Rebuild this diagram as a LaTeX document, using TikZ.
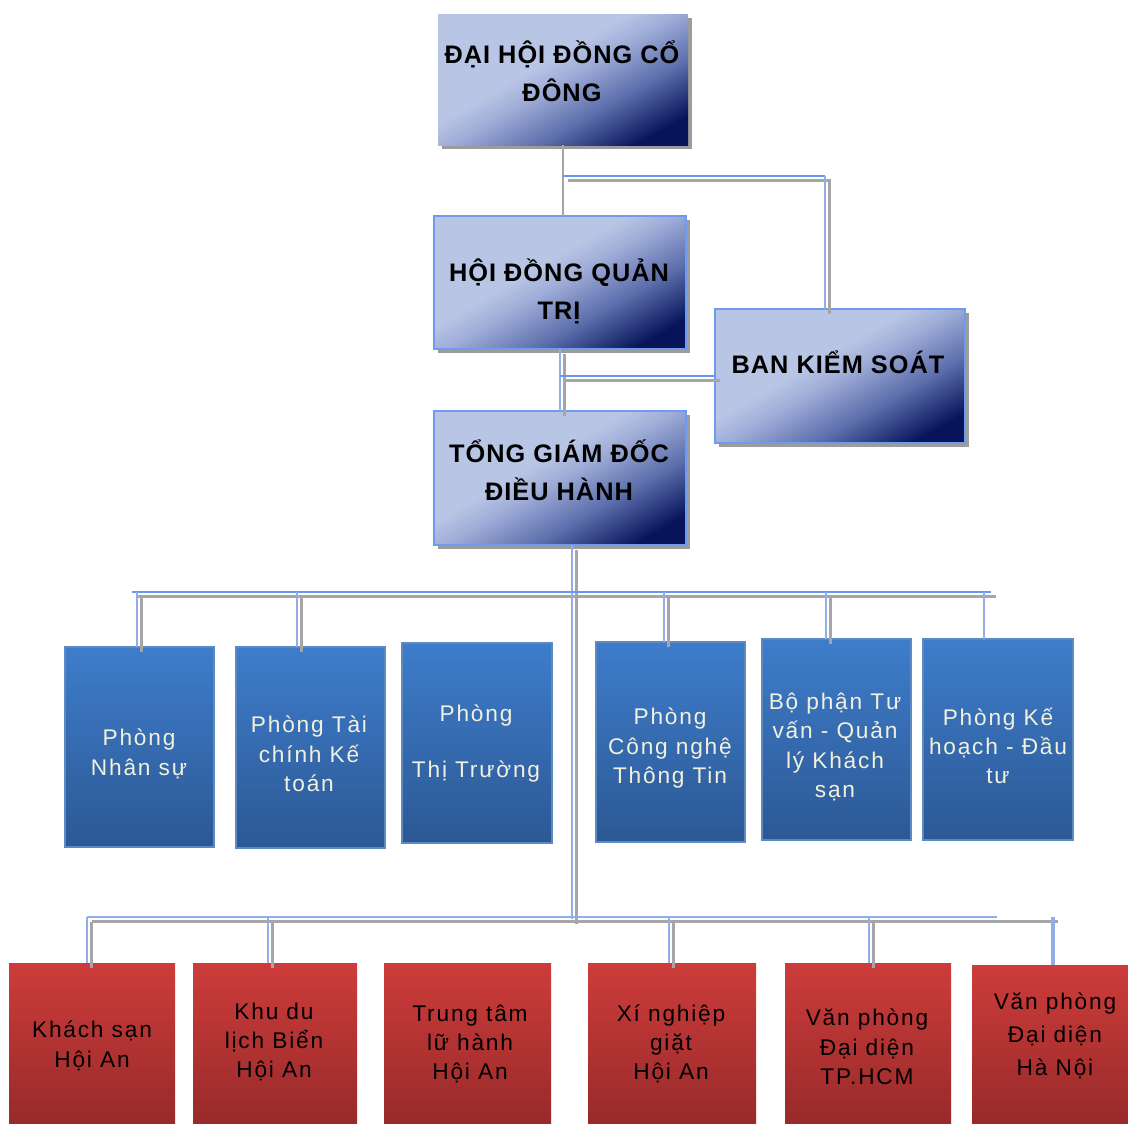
\documentclass[tikz,border=0pt]{standalone}
\usepackage{fontspec}
\setmainfont{Liberation Sans}
\newfontfamily\hdrfont[LetterSpace=4]{Liberation Sans}
\newfontfamily\lblfont[LetterSpace=8]{Liberation Sans}
\usetikzlibrary{shadows}
\definecolor{tl}{HTML}{B9C5E5}
\definecolor{tl2}{HTML}{9FADD8}
\definecolor{tm}{HTML}{5C6EAC}
\definecolor{td}{HTML}{07145A}
\definecolor{edgeblue}{HTML}{6E9BEF}
\definecolor{shadowgray}{HTML}{9C9C9C}
\definecolor{bt}{HTML}{3E7DCB}
\definecolor{bb}{HTML}{2C5894}
\definecolor{bedge}{HTML}{5E8AC4}
\definecolor{rt}{HTML}{CD3C3A}
\definecolor{rb}{HTML}{982A2A}
\definecolor{cream}{HTML}{F2F0DE}
\definecolor{lineblue}{HTML}{6697F2}
\definecolor{lightline}{HTML}{91AEEA}
\definecolor{linegray}{HTML}{A6A6A6}
\pgfdeclareverticalshading{topgrad}{100bp}{color(0bp)=(td); color(23bp)=(td); color(37bp)=(tm); color(50bp)=(tl2); color(57bp)=(tl); color(100bp)=(tl)}
\begin{document}
\begin{tikzpicture}[x=0.75pt,y=-0.75pt,
  sz/.style 2 args={minimum width=#1*0.75pt, minimum height=#2*0.75pt, inner sep=0pt, outer sep=0pt},
  topbox/.style={shade, shading=topgrad, shading angle=30,
    general shadow={fill=shadowgray, shadow xshift=3pt, shadow yshift=-3pt}},
  topedge/.style={draw=edgeblue, line width=1.5pt},
  bluebox/.style={top color=bt, bottom color=bb, draw=bedge, line width=1pt},
  redbox/.style={top color=rt, bottom color=rb},
  toptext/.style={font=\hdrfont\bfseries\fontsize{19}{28.5}\selectfont, align=center, text=black, inner sep=0pt},
  bluetext/.style={font=\lblfont\fontsize{17}{22}\selectfont, align=center, text=cream, inner sep=0pt},
  redtext/.style={font=\lblfont\fontsize{17}{22}\selectfont, align=center, text=black, inner sep=0pt},
  bl/.style={draw=lineblue, line width=1.8pt},
  ll/.style={draw=lightline, line width=1.5pt},
  gl/.style={draw=linegray, line width=1.8pt},
  shd/.style={gl, transform canvas={xshift=3.5pt,yshift=-3.5pt}}
]
\useasboundingbox (0,0) rectangle (1128,1125);

% ---------- top boxes ----------
\node[topbox, sz={250}{131}] (dhcd) at (563,79.5) {};
\node[topbox, topedge, sz={252}{133}] (hdqt) at (560,282.5) {};
\node[topbox, topedge, sz={250}{134}] (bks) at (840,376) {};
\node[topbox, topedge, sz={252}{134}] (tgd) at (560,478) {};

\node[toptext] (dhcdt) at (562,71) {ĐẠI HỘI ĐỒNG CỔ\\ĐÔNG};
\node[toptext] (hdqtt) at (559,291) {HỘI ĐỒNG QUẢN\\TRỊ};
\node[toptext] (bkst) at (838,362) {BAN KIỂM SOÁT};
\node[toptext] (tgdt) at (559,470) {TỔNG GIÁM ĐỐC\\ĐIỀU HÀNH};

% ---------- blue departments ----------
\node[bluebox, sz={149}{200}] (ns) at (139.5,747) {};
\node[bluebox, sz={149}{201}] (tc) at (310.5,747.5) {};
\node[bluebox, sz={150}{200}] (tt) at (477,743) {};
\node[bluebox, sz={149}{200}] (cn) at (670.5,742) {};
\node[bluebox, sz={149}{201}] (bp) at (836.5,739.5) {};
\node[bluebox, sz={150}{201}] (kh) at (998,739.5) {};

\node[bluetext] (nst) at (139,754) {Phòng\\Nhân sự};
\node[bluetext] (tct) at (309,754) {Phòng Tài\\chính Kế\\toán};
\node[bluetext] (ttt) at (476,743) {Phòng\\[20pt]Thị Trường};
\node[bluetext] (cnt) at (670,748) {Phòng\\Công nghệ\\Thông Tin};
\node[bluetext] (bpt) at (835,747) {Bộ phận Tư\\vấn - Quản\\lý Khách\\sạn};
\node[bluetext] (kht) at (998,746) {Phòng Kế\\hoạch - Đầu\\tư};

% ---------- red units ----------
\node[redbox, sz={166}{160}] (ks) at (92,1043) {};
\node[redbox, sz={164}{160}] (kdl) at (275,1043) {};
\node[redbox, sz={167}{160}] (ttl) at (467.5,1043) {};
\node[redbox, sz={168}{160}] (xn) at (672,1043) {};
\node[redbox, sz={166}{160}] (hcm) at (868,1043) {};
\node[redbox, sz={156}{158}] (hn) at (1050,1044) {};

\node[redtext] (kst) at (92,1046) {Khách sạn\\Hội An};
\node[redtext] (kdlt) at (274,1042) {Khu du\\lịch Biển\\Hội An};
\node[redtext] (ttlt) at (470,1044) {Trung tâm\\lữ hành\\Hội An};
\node[redtext] (xnt) at (671,1044) {Xí nghiệp\\giặt\\Hội An};
\node[redtext] (hcmt) at (867,1047) {Văn phòng\\Đại diện\\TP.HCM};
\node[redtext] (hnt) at (1055,1036) {Văn phòng\\[3pt]Đại diện\\[3pt]Hà Nội};

% ---------- connector coordinates ----------
\coordinate (j1) at (563,176);
\coordinate (k1) at (825,176);
\coordinate (v0) at (572,545);
\coordinate (v1) at (572,919);
\coordinate (m1) at (132,592);
\coordinate (m2) at (991,592);
\coordinate (dns) at (137,592);
\coordinate (dtc) at (297,592);
\coordinate (dcn) at (664,592);
\coordinate (dbp) at (826,592);
\coordinate (dkh) at (984,592);
\coordinate (b1) at (87,917);
\coordinate (b2) at (997,917);
\coordinate (b3) at (1053,917);
\coordinate (dks) at (87,917);
\coordinate (dkdl) at (268,917);
\coordinate (dxn) at (669,917);
\coordinate (dhcm) at (869,917);
\coordinate (dhn) at (1053,917);

% ---------- gray shadow lines ----------
\draw[gl] (dhcd.south) -- (dhcd.south |- hdqt.north);
\draw[shd] (j1) -- (k1) -- (k1 |- bks.north);
\draw[shd] (hdqt.south) -- (tgd.north);
\draw[shd] (bks.west) -- (bks.west -| hdqt.south);
\draw[shd] (v0) -- (v1);
\draw[shd] (m1) -- (m2);
\foreach \d/\b in {dns/ns, dtc/tc, dcn/cn, dbp/bp}
  \draw[shd] (\d) -- (\d |- \b.north);
\draw[shd] (b1) -- (b3);
\foreach \d/\b in {dks/ks, dkdl/kdl, dxn/xn, dhcm/hcm}
  \draw[shd] (\d) -- (\d |- \b.north);

% ---------- blue lines ----------
\draw[bl] (j1) -- (k1);
\draw[ll] (k1) -- (k1 |- bks.north);
\draw[ll] (hdqt.south) -- (tgd.north);
\draw[bl] (bks.west) -- (bks.west -| hdqt.south);
\draw[ll] (v0) -- (v1);
\draw[bl] (m1) -- (m2);
\foreach \d/\b in {dns/ns, dtc/tc, dcn/cn, dbp/bp, dkh/kh}
  \draw[ll] (\d) -- (\d |- \b.north);
\draw[ll] (b1) -- (b2);
\foreach \d/\b in {dks/ks, dkdl/kdl, dxn/xn, dhcm/hcm}
  \draw[ll] (\d) -- (\d |- \b.north);
\draw[ll, line width=2.5pt] (dhn) -- (dhn |- hn.north);
\end{tikzpicture}
\end{document}
